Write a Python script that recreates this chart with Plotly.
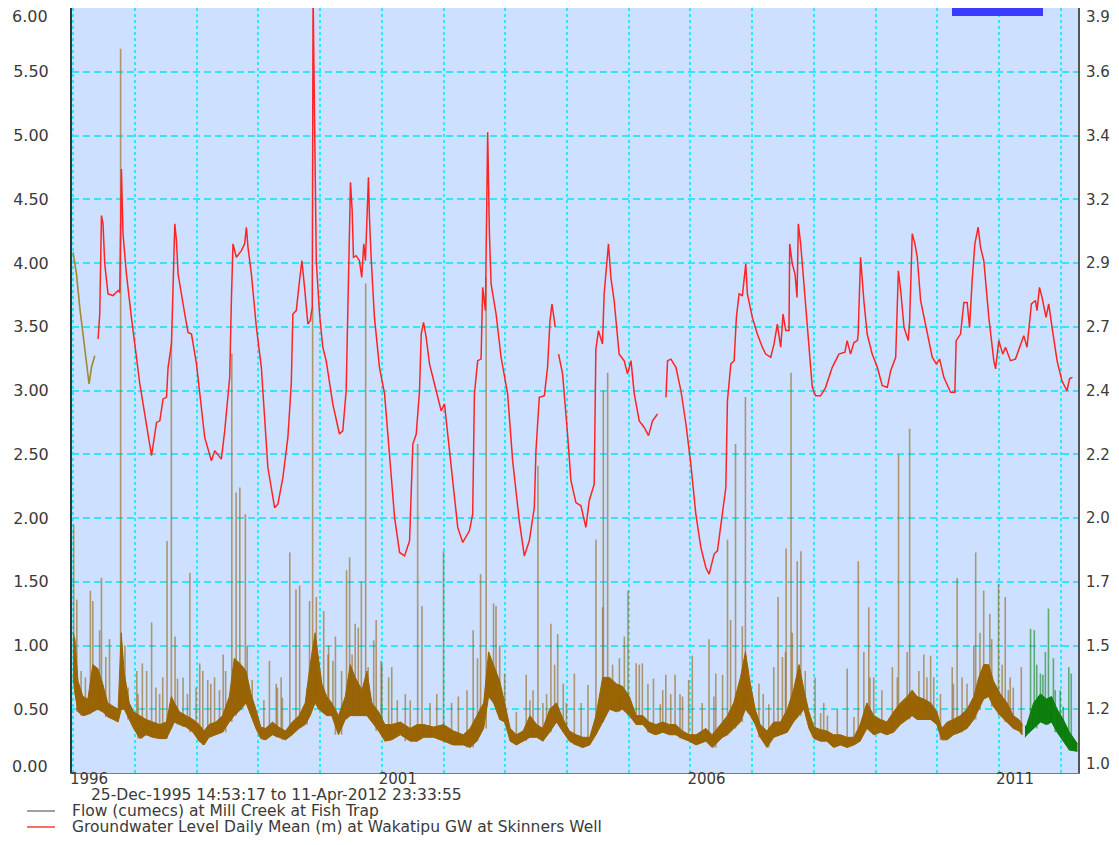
import pandas as pd
import plotly.graph_objects as go

# ---------------- data ----------------
x_start = "1995-12-25 14:53:17"
x_end = "2012-04-11 23:33:55"
year_ticks = list(range(1996, 2013))
year_tick_text = ["1996", "", "", "", "", "2001", "", "", "", "", "2006", "", "", "", "", "2011", ""]

left_tick_vals = [0, 0.5, 1.0, 1.5, 2.0, 2.5, 3.0, 3.5, 4.0, 4.5, 5.0, 5.5, 6.0]
left_tick_text = ["0.00", "0.50", "1.00", "1.50", "2.00", "2.50", "3.00", "3.50", "4.00", "4.50", "5.00", "5.50", "6.00"]
right_tick_vals = [1.0, 1.2417, 1.4833, 1.725, 1.9667, 2.2083, 2.45, 2.6917, 2.9333, 3.175, 3.4167, 3.6583, 3.9]
right_tick_text = ["1.0", "1.2", "1.5", "1.7", "2.0", "2.2", "2.4", "2.7", "2.9", "3.2", "3.4", "3.6", "3.9"]

# Groundwater level (m) - early segment (different quality colour)
gw_early_years = [1996.000, 1996.055, 1996.108, 1996.162, 1996.217, 1996.259, 1996.298, 1996.351]
gw_early_level = [2.974, 2.892, 2.765, 2.664, 2.551, 2.475, 2.538, 2.582]

# Groundwater level (m) - main record (None = gap)
gw_years = [
    1996.405, 1996.432, 1996.460, 1996.485, 1996.513, 1996.566, 1996.647, 1996.728, 1996.756, 1996.767,
    1996.783, 1996.809, 1996.864, 1996.945, 1997.079, 1997.269, 1997.350, 1997.403, 1997.456, 1997.511,
    1997.537, 1997.592, 1997.618, 1997.646, 1997.673, 1997.699, 1997.807, 1997.861, 1997.916, 1997.997,
    1998.131, 1998.239, 1998.293, 1998.401, 1998.455, 1998.536, 1998.563, 1998.589, 1998.644, 1998.725,
    1998.778, 1998.806, 1998.832, 1998.887, 1998.968, 1999.049, 1999.155, 1999.264, 1999.317, 1999.398,
    1999.479, 1999.534, 1999.560, 1999.615, 1999.668, 1999.706, 1999.749, 1999.803, 1999.841, 1999.874,
    1999.887, 1999.911, 1999.939, 1999.992, 2000.045, 2000.100, 2000.207, 2000.315, 2000.369, 2000.424,
    2000.450, 2000.477, 2000.494, 2000.521, 2000.542, 2000.586, 2000.639, 2000.676, 2000.709, 2000.736,
    2000.757, 2000.785, 2000.801, 2000.828, 2000.882, 2000.963, 2001.044, 2001.125, 2001.206, 2001.287,
    2001.368, 2001.449, 2001.502, 2001.557, 2001.610, 2001.638, 2001.675, 2001.718, 2001.772, 2001.880,
    2001.961, 2002.015, 2002.068, 2002.149, 2002.230, 2002.311, 2002.419, 2002.472, 2002.500, 2002.553,
    2002.608, 2002.634, 2002.678, 2002.715, 2002.743, 2002.770, 2002.851, 2002.932, 2003.039, 2003.120,
    2003.228, 2003.309, 2003.390, 2003.471, 2003.498, 2003.552, 2003.633, 2003.686, 2003.725, 2003.757,
    2003.811, 2003.838, 2003.864, 2003.929, 2004.010, 2004.065, 2004.146, 2004.227, 2004.307, 2004.361,
    2004.442, 2004.469, 2004.511, 2004.576, 2004.603, 2004.641, 2004.673, 2004.712, 2004.765, 2004.846,
    2004.927, 2004.981, 2005.036, 2005.089, 2005.170, 2005.251, 2005.320, 2005.385, 2005.466, 2005.530,
    2005.602, 2005.628, 2005.683, 2005.764, 2005.845, 2005.926, 2006.006, 2006.087, 2006.168, 2006.249,
    2006.303, 2006.383, 2006.437, 2006.518, 2006.573, 2006.599, 2006.654, 2006.707, 2006.744, 2006.788,
    2006.841, 2006.896, 2006.922, 2007.003, 2007.084, 2007.165, 2007.220, 2007.301, 2007.354, 2007.408,
    2007.463, 2007.500, 2007.544, 2007.597, 2007.608, 2007.650, 2007.694, 2007.727, 2007.748, 2007.786,
    2007.840, 2007.893, 2007.974, 2008.029, 2008.110, 2008.191, 2008.298, 2008.406, 2008.503, 2008.540,
    2008.595, 2008.649, 2008.706, 2008.718, 2008.757, 2008.810, 2008.864, 2008.945, 2009.026, 2009.107,
    2009.188, 2009.243, 2009.324, 2009.367, 2009.405, 2009.459, 2009.528, 2009.550, 2009.592, 2009.636,
    2009.673, 2009.728, 2009.835, 2009.916, 2009.981, 2010.036, 2010.105, 2010.214, 2010.283, 2010.304,
    2010.375, 2010.429, 2010.482, 2010.521, 2010.563, 2010.607, 2010.660, 2010.699, 2010.752, 2010.833,
    2010.914, 2010.942, 2010.995, 2011.060, 2011.104, 2011.184, 2011.265, 2011.346, 2011.400, 2011.453,
    2011.524, 2011.589, 2011.615, 2011.654, 2011.696, 2011.761, 2011.804, 2011.858, 2011.939, 2012.019,
    2012.100, 2012.144, 2012.190,
]
gw_level = [
    2.645, 2.740, 3.113, 3.082, 2.930, 2.816, 2.810, 2.829, 2.822, 3.170,
    3.290, 3.044, 2.892, 2.727, 2.475, 2.203, 2.329, 2.335, 2.418, 2.424,
    2.538, 2.626, 2.892, 3.082, 3.018, 2.892, 2.740, 2.670, 2.664, 2.551,
    2.272, 2.184, 2.222, 2.190, 2.297, 2.500, 2.791, 3.006, 2.955, 2.980,
    3.006, 3.069, 2.993, 2.892, 2.689, 2.538, 2.158, 2.006, 2.019, 2.120,
    2.272, 2.475, 2.740, 2.753, 2.867, 2.942, 2.841, 2.702, 2.715, 2.765,
    3.950, 3.398, 2.942, 2.740, 2.614, 2.563, 2.399, 2.285, 2.297, 2.449,
    2.715, 3.094, 3.239, 3.132, 2.955, 2.961, 2.942, 2.879, 3.006, 2.942,
    3.107, 3.258, 3.107, 2.955, 2.727, 2.538, 2.437, 2.209, 1.969, 1.836,
    1.823, 1.880, 2.247, 2.285, 2.449, 2.664, 2.708, 2.651, 2.551, 2.449,
    2.373, 2.399, 2.285, 2.095, 1.931, 1.874, 1.918, 1.981, 2.437, 2.563,
    2.569, 2.841, 2.753, 3.429, 3.044, 2.854, 2.740, 2.576, 2.437, 2.184,
    1.956, 1.823, 1.880, 2.006, 2.222, 2.424, 2.430, 2.538, 2.715, 2.778,
    2.689, None, 2.588, 2.513, 2.285, 2.108, 2.025, 2.013, 1.931, 2.032,
    2.095, 2.607, 2.677, 2.626, 2.816, 2.917, 3.006, 2.879, 2.791, 2.588,
    2.563, 2.513, 2.563, 2.437, 2.335, 2.310, 2.279, 2.335, 2.361, None,
    2.424, 2.563, 2.569, 2.538, 2.449, 2.323, 2.171, 1.981, 1.855, 1.779,
    1.754, 1.830, 1.842, 1.981, 2.082, 2.411, 2.551, 2.563, 2.727, 2.816,
    2.810, 2.930, 2.816, 2.727, 2.664, 2.614, 2.588, 2.576, 2.626, 2.702,
    2.614, 2.740, 2.677, 2.677, 3.006, 2.930, 2.892, 2.803, 3.082, 3.006,
    2.841, 2.689, 2.462, 2.430, 2.430, 2.462, 2.538, 2.588, 2.595, 2.639,
    2.588, 2.632, 2.639, 2.664, 2.955, 2.791, 2.664, 2.588, 2.538, 2.468,
    2.462, 2.525, 2.576, 2.904, 2.829, 2.689, 2.639, 2.715, 3.044, 3.006,
    2.955, 2.791, 2.664, 2.576, 2.551, 2.569, 2.500, 2.443, 2.443, 2.639,
    2.664, 2.784, 2.784, 2.689, 2.867, 3.006, 3.069, 2.993, 2.942, 2.727,
    2.563, 2.532, 2.639, 2.588, 2.614, 2.563, 2.569, 2.626, 2.658, 2.614,
    2.778, 2.791, 2.753, 2.841, 2.803, 2.727, 2.778, 2.689, 2.563, 2.487,
    2.449, 2.495, 2.500,
]

# Flow (cumecs): dense daily band (lower / upper edge) - brown record
flow_band_years = [
    1996.00, 1996.03, 1996.08, 1996.16, 1996.24, 1996.32, 1996.40, 1996.48, 1996.56, 1996.65,
    1996.73, 1996.78, 1996.83, 1996.91, 1996.98, 1997.08, 1997.18, 1997.29, 1997.40, 1997.51,
    1997.59, 1997.64, 1997.72, 1997.83, 1997.94, 1998.04, 1998.12, 1998.20, 1998.31, 1998.42,
    1998.53, 1998.61, 1998.72, 1998.80, 1998.88, 1998.96, 1999.04, 1999.12, 1999.23, 1999.33,
    1999.44, 1999.55, 1999.66, 1999.76, 1999.84, 1999.92, 1999.98, 2000.03, 2000.11, 2000.19,
    2000.30, 2000.41, 2000.49, 2000.57, 2000.68, 2000.76, 2000.84, 2000.95, 2001.05, 2001.16,
    2001.30, 2001.46, 2001.57, 2001.68, 2001.84, 2002.00, 2002.16, 2002.32, 2002.43, 2002.54,
    2002.65, 2002.73, 2002.81, 2002.91, 2002.99, 2003.08, 2003.18, 2003.29, 2003.40, 2003.51,
    2003.61, 2003.72, 2003.83, 2003.94, 2004.04, 2004.15, 2004.26, 2004.37, 2004.47, 2004.58,
    2004.69, 2004.80, 2004.90, 2005.01, 2005.12, 2005.23, 2005.33, 2005.44, 2005.55, 2005.66,
    2005.76, 2005.87, 2005.98, 2006.09, 2006.25, 2006.35, 2006.52, 2006.60, 2006.70, 2006.81,
    2006.89, 2006.97, 2007.05, 2007.13, 2007.24, 2007.35, 2007.46, 2007.57, 2007.67, 2007.76,
    2007.84, 2007.92, 2008.00, 2008.11, 2008.21, 2008.32, 2008.43, 2008.54, 2008.65, 2008.75,
    2008.86, 2008.97, 2009.08, 2009.18, 2009.29, 2009.40, 2009.51, 2009.59, 2009.67, 2009.78,
    2009.89, 2009.99, 2010.07, 2010.16, 2010.26, 2010.37, 2010.48, 2010.59, 2010.67, 2010.75,
    2010.83, 2010.91, 2011.02, 2011.13, 2011.23, 2011.32, 2011.38,
]
flow_band_low = [
    0.75, 0.62, 0.48, 0.45, 0.46, 0.48, 0.50, 0.48, 0.44, 0.42,
    0.40, 0.50, 0.50, 0.42, 0.35, 0.27, 0.30, 0.28, 0.27, 0.27,
    0.35, 0.40, 0.38, 0.36, 0.32, 0.25, 0.22, 0.28, 0.30, 0.32,
    0.40, 0.45, 0.50, 0.55, 0.45, 0.35, 0.27, 0.26, 0.30, 0.28,
    0.26, 0.30, 0.35, 0.38, 0.45, 0.55, 0.50, 0.48, 0.45, 0.45,
    0.30, 0.42, 0.45, 0.45, 0.45, 0.45, 0.40, 0.33, 0.25, 0.26,
    0.30, 0.25, 0.25, 0.28, 0.28, 0.25, 0.22, 0.22, 0.20, 0.25,
    0.35, 0.60, 0.55, 0.42, 0.40, 0.25, 0.22, 0.25, 0.28, 0.28,
    0.25, 0.32, 0.40, 0.32, 0.25, 0.22, 0.20, 0.22, 0.30, 0.40,
    0.50, 0.48, 0.50, 0.45, 0.38, 0.38, 0.32, 0.30, 0.32, 0.30,
    0.30, 0.27, 0.25, 0.22, 0.25, 0.20, 0.28, 0.30, 0.35, 0.40,
    0.50, 0.45, 0.38, 0.28, 0.20, 0.28, 0.30, 0.32, 0.40, 0.45,
    0.50, 0.35, 0.27, 0.25, 0.25, 0.20, 0.22, 0.20, 0.22, 0.25,
    0.35, 0.30, 0.32, 0.30, 0.32, 0.38, 0.42, 0.45, 0.42, 0.42,
    0.42, 0.38, 0.26, 0.26, 0.30, 0.32, 0.35, 0.42, 0.50, 0.58,
    0.60, 0.52, 0.45, 0.40, 0.35, 0.33, 0.30,
]
flow_band_high = [
    1.10, 1.05, 0.72, 0.60, 0.58, 0.85, 0.82, 0.70, 0.55, 0.52,
    0.50, 1.10, 0.78, 0.55, 0.48, 0.45, 0.42, 0.40, 0.38, 0.40,
    0.60, 0.55, 0.48, 0.45, 0.42, 0.38, 0.33, 0.38, 0.40, 0.45,
    0.60, 0.90, 0.85, 0.80, 0.62, 0.50, 0.36, 0.35, 0.40, 0.36,
    0.33, 0.40, 0.45, 0.55, 0.85, 1.10, 0.90, 0.70, 0.60, 0.55,
    0.45, 0.60, 0.85, 0.75, 0.65, 0.80, 0.55, 0.48, 0.38, 0.38,
    0.40, 0.35, 0.38, 0.38, 0.36, 0.38, 0.33, 0.30, 0.35, 0.45,
    0.55, 0.95, 0.85, 0.72, 0.55, 0.35, 0.30, 0.33, 0.45, 0.38,
    0.35, 0.50, 0.55, 0.42, 0.33, 0.30, 0.28, 0.28, 0.45, 0.75,
    0.75, 0.70, 0.68, 0.60, 0.45, 0.45, 0.40, 0.38, 0.40, 0.38,
    0.38, 0.33, 0.30, 0.30, 0.35, 0.30, 0.40, 0.45, 0.55, 0.75,
    0.95, 0.70, 0.50, 0.38, 0.33, 0.40, 0.40, 0.50, 0.65, 0.85,
    0.65, 0.48, 0.36, 0.34, 0.33, 0.30, 0.30, 0.28, 0.28, 0.38,
    0.55, 0.45, 0.42, 0.40, 0.48, 0.55, 0.60, 0.65, 0.60, 0.58,
    0.55, 0.48, 0.35, 0.40, 0.42, 0.45, 0.50, 0.60, 0.75, 0.85,
    0.85, 0.72, 0.62, 0.55, 0.45, 0.42, 0.38,
]
# Flow event peaks (cumecs) - brown record
flow_spike_years = [
    1996.01, 1996.06, 1996.28, 1996.32, 1996.46, 1996.59, 1996.77, 1996.84, 1997.03, 1997.12,
    1997.27, 1997.40, 1997.52, 1997.59, 1997.65, 1997.78, 1997.89, 1998.05, 1998.18, 1998.29,
    1998.43, 1998.57, 1998.64, 1998.70, 1998.79, 1999.18, 1999.29, 1999.37, 1999.51, 1999.61,
    1999.67, 1999.83, 1999.88, 1999.94, 2000.13, 2000.21, 2000.43, 2000.48, 2000.57, 2000.67,
    2000.74, 2000.91, 2000.99, 2001.16, 2001.58, 2001.65, 2001.89, 2002.00, 2002.48, 2002.60,
    2002.69, 2002.81, 2002.85, 2002.99, 2003.34, 2003.40, 2003.53, 2003.67, 2003.74, 2003.85,
    2003.94, 2004.12, 2004.34, 2004.47, 2004.59, 2004.66, 2004.93, 2004.99, 2005.12, 2005.22,
    2005.31, 2005.40, 2005.51, 2005.60, 2005.75, 2005.83, 2005.97, 2006.03, 2006.30, 2006.41,
    2006.52, 2006.60, 2006.73, 2006.89, 2007.18, 2007.27, 2007.35, 2007.42, 2007.49, 2007.55,
    2007.63, 2007.73, 2007.79, 2008.02, 2008.11, 2008.22, 2008.54, 2008.65, 2008.72, 2008.89,
    2008.97, 2009.27, 2009.37, 2009.55, 2009.78, 2009.89, 2009.94, 2010.05, 2010.24, 2010.32,
    2010.48, 2010.62, 2010.75, 2010.85, 2010.99, 2011.10, 2011.15, 2011.23, 2011.36,
    # smaller events
    1996.13, 1996.20, 1996.43, 1996.53, 1996.89, 1997.05, 1997.19, 1997.34, 1997.45, 1997.69,
    1997.85, 1997.99, 1998.10, 1998.23, 1998.37, 1998.47, 1998.82, 1998.90, 1999.09, 1999.31,
    1999.39, 1999.79, 2000.06, 2000.14, 2000.25, 2000.35, 2000.52, 2000.62, 2000.78, 2000.87,
    2001.00, 2001.11, 2001.25, 2001.38, 2001.46, 2001.78, 2002.13, 2002.24, 2002.38, 2002.55,
    2002.91, 2003.18, 2003.45, 2003.61, 2003.80, 2003.99, 2004.23, 2004.58, 2004.74, 2004.85,
    2005.17, 2005.55, 2005.68, 2005.87, 2006.19, 2006.38, 2006.65, 2006.84, 2007.11, 2007.54,
    2007.65, 2007.86, 2008.16, 2008.38, 2008.81, 2008.91, 2009.10, 2009.35, 2009.51, 2009.70,
    2009.83, 2010.26, 2010.40, 2010.59, 2010.69, 2010.88, 2011.05, 2011.18,
]
flow_spike_peak = [
    1.95, 1.36, 1.43, 1.35, 1.53, 1.05, 5.68, 1.00, 0.80, 0.86,
    1.18, 0.62, 1.82, 3.37, 1.07, 0.75, 1.57, 0.86, 0.73, 0.75,
    0.93, 3.29, 2.20, 2.24, 2.03, 0.88, 0.70, 0.75, 1.73, 1.44,
    1.47, 1.35, 3.65, 1.38, 0.93, 0.88, 1.59, 1.69, 1.17, 1.50,
    3.84, 1.20, 0.88, 0.83, 2.58, 1.31, 0.62, 1.74, 1.12, 1.56,
    3.89, 1.33, 1.31, 0.78, 0.77, 0.57, 2.41, 0.62, 1.17, 1.09,
    0.70, 0.78, 0.69, 1.83, 3.00, 3.14, 1.07, 1.43, 0.86, 0.86,
    0.70, 0.74, 0.54, 0.77, 0.77, 0.62, 0.73, 0.92, 1.05, 0.78,
    0.77, 1.83, 2.58, 2.95, 0.62, 0.54, 0.83, 1.38, 0.91, 1.76,
    3.14, 1.66, 1.74, 0.75, 0.47, 0.45, 0.82, 0.44, 1.66, 1.30,
    0.75, 0.83, 2.50, 2.70, 0.93, 0.92, 0.75, 0.62, 0.83, 1.53,
    0.70, 1.73, 1.43, 1.25, 1.48, 1.38, 0.65, 0.67, 0.83,
    # smaller events
    0.80, 0.75, 1.12, 0.91, 0.67, 0.62, 0.80, 0.67, 0.75, 0.74,
    0.62, 0.67, 0.80, 0.70, 0.65, 0.80, 1.00, 0.73, 0.57, 0.67,
    0.59, 0.67, 1.27, 1.00, 1.07, 0.80, 0.93, 1.14, 0.83, 1.04,
    0.85, 0.75, 0.57, 0.62, 0.57, 0.55, 0.55, 0.60, 0.65, 0.90,
    1.00, 0.48, 0.65, 0.55, 0.85, 0.55, 0.55, 1.30, 0.85, 0.90,
    0.85, 0.65, 0.62, 0.60, 0.55, 0.60, 1.20, 1.15, 0.70, 0.95,
    1.10, 0.80, 0.55, 0.50, 0.95, 0.75, 0.65, 0.75, 0.95, 0.80,
    0.75, 0.70, 0.75, 1.00, 1.10, 1.05, 0.85, 0.75,
]

# Flow (cumecs): latest (green) record
flow2_band_years = [2011.42, 2011.45, 2011.56, 2011.67, 2011.77, 2011.85, 2011.94, 2012.04, 2012.14, 2012.27]
flow2_band_low = [0.28, 0.30, 0.35, 0.40, 0.38, 0.40, 0.32, 0.25, 0.18, 0.17]
flow2_band_high = [0.36, 0.38, 0.55, 0.62, 0.58, 0.60, 0.50, 0.42, 0.32, 0.23]
flow2_spike_years = [2011.51, 2011.57, 2011.67, 2011.71, 2011.80, 2011.91, 2012.04, 2012.13, 2012.17,
                     2011.61, 2011.75, 2011.88, 2011.99]
flow2_spike_peak = [1.13, 1.12, 0.78, 0.77, 1.29, 0.65, 0.52, 0.83, 0.78,
                    0.85, 0.95, 0.90, 0.65]

period_text = "25-Dec-1995 14:53:17 to 11-Apr-2012 23:33:55"
flow_name = "Flow (cumecs) at Mill Creek at Fish Trap"
gw_name = "Groundwater Level Daily Mean (m) at Wakatipu GW at Skinners Well"


# ---------------- helpers ----------------
def to_dt(years):
    out = []
    for y in years:
        base = pd.Timestamp(int(y), 1, 1)
        out.append(base + pd.Timedelta(days=(y - int(y)) * 365.25))
    return out


def spike_xy(band_years, band_low, s_years, s_peak):
    xs, ys = [], []
    for t, p in zip(s_years, s_peak):
        # base of each event = lower edge of the nearest band reading
        i = min(range(len(band_years)), key=lambda k: abs(band_years[k] - t))
        d = to_dt([t])[0]
        xs += [d, d, None]
        ys += [band_low[i], p, None]
    return xs, ys


# Page geometry (plot area in page pixels; the html body adds an 8 px margin)
PAGE_L, PAGE_R, PAGE_T, PAGE_B = 72, 1078, 8, 773


def px(page_x):
    return (page_x - PAGE_L) / (PAGE_R - PAGE_L)


def py(page_y):
    return 1 - (page_y - PAGE_T) / (PAGE_B - PAGE_T)


BROWN = "#9a6400"
GREEN = "#0b7d0b"
GRID = "#33e3ff"
TEXT = "#3a3a3a"
FONT = "DejaVu Sans"
TEXT_SIZE = 15.5
FLOW_KEY = "#a0a0a0"
GW_KEY = "#ff6a6a"

fig = go.Figure()

bx = to_dt(flow_band_years)
fig.add_trace(go.Scatter(x=bx, y=flow_band_low, mode="lines", line=dict(color=BROWN, width=1),
                         showlegend=False, hoverinfo="skip"))
fig.add_trace(go.Scatter(x=bx, y=flow_band_high, mode="lines", line=dict(color=BROWN, width=1),
                         fill="tonexty", fillcolor=BROWN, showlegend=False, hoverinfo="skip"))
sx, sy = spike_xy(flow_band_years, flow_band_low, flow_spike_years, flow_spike_peak)
fig.add_trace(go.Scatter(x=sx, y=sy, mode="lines", line=dict(color="rgba(150,100,15,0.6)", width=1.6),
                         showlegend=False, hoverinfo="skip"))

gx = to_dt(flow2_band_years)
fig.add_trace(go.Scatter(x=gx, y=flow2_band_low, mode="lines", line=dict(color=GREEN, width=1),
                         showlegend=False, hoverinfo="skip"))
fig.add_trace(go.Scatter(x=gx, y=flow2_band_high, mode="lines", line=dict(color=GREEN, width=1),
                         fill="tonexty", fillcolor=GREEN, showlegend=False, hoverinfo="skip"))
sx2, sy2 = spike_xy(flow2_band_years, flow2_band_low, flow2_spike_years, flow2_spike_peak)
fig.add_trace(go.Scatter(x=sx2, y=sy2, mode="lines", line=dict(color="rgba(20,130,20,0.6)", width=1.6),
                         showlegend=False, hoverinfo="skip"))

fig.add_trace(go.Scatter(x=to_dt(gw_early_years), y=gw_early_level, mode="lines", yaxis="y2",
                         line=dict(color="#a08a30", width=1.6), showlegend=False, hoverinfo="skip"))
fig.add_trace(go.Scatter(x=to_dt(gw_years), y=gw_level, mode="lines", yaxis="y2", connectgaps=False,
                         line=dict(color="#ff2424", width=1.5), showlegend=False, hoverinfo="skip"))

left_font = dict(family=FONT, size=16, color=TEXT)
right_font = dict(family=FONT, size=15, color=TEXT)
x_font = dict(family=FONT, size=15, color=TEXT)
text_font = dict(family=FONT, size=TEXT_SIZE, color=TEXT)

annotations = [
    # end labels of the value axes are nudged inside the frame, as in the reference
    dict(text=left_tick_text[-1], x=px(50), y=py(17), xanchor="right", yanchor="middle", font=left_font),
    dict(text=left_tick_text[0], x=px(50), y=py(766), xanchor="right", yanchor="middle", font=left_font),
    dict(text=right_tick_text[-1], x=px(1084), y=py(17), xanchor="left", yanchor="middle", font=right_font),
    dict(text=right_tick_text[0], x=px(1084), y=py(764), xanchor="left", yanchor="middle", font=right_font),
    dict(text=period_text, x=px(89), y=py(795), xanchor="left", yanchor="middle", font=text_font),
    dict(text=flow_name, x=px(70), y=py(811), xanchor="left", yanchor="middle", font=text_font),
    dict(text=gw_name, x=px(70), y=py(827), xanchor="left", yanchor="middle", font=text_font),
]
for a in annotations:
    a.update(xref="paper", yref="paper", showarrow=False)

shapes = [
    dict(type="rect", x0=px(952), x1=px(1043), y0=py(16), y1=py(8),
         fillcolor="#3b3bff", line=dict(width=0), layer="above"),
    dict(type="line", x0=px(27), x1=px(55), y0=py(811), y1=py(811), line=dict(color=FLOW_KEY, width=2)),
    dict(type="line", x0=px(27), x1=px(55), y0=py(827), y1=py(827), line=dict(color=GW_KEY, width=2)),
]
for s in shapes:
    s.update(xref="paper", yref="paper")

fig.update_layout(
    width=1103, height=829,
    margin=dict(l=64, r=33, t=0, b=64, autoexpand=False),
    paper_bgcolor="white", plot_bgcolor="#cde0ff",
    font=dict(family=FONT, size=16, color=TEXT),
    showlegend=False,
    xaxis=dict(type="date", range=[x_start, x_end],
               tickvals=[f"{y}-01-01" for y in year_ticks], ticktext=year_tick_text,
               showgrid=True, gridcolor=GRID, gridwidth=1.5, griddash="3px,3px",
               showline=True, linecolor="#7a7a7a", linewidth=1, mirror=True,
               ticks="", ticklabelshift=16, ticklabelstandoff=-8, zeroline=False,
               tickfont=x_font),
    yaxis=dict(range=[0, 6], tickvals=left_tick_vals,
               ticktext=[""] + left_tick_text[1:-1] + [""],
               showgrid=True, gridcolor=GRID, gridwidth=1.5, griddash="7px,4px",
               showline=True, linecolor="#2f3a3a", linewidth=2, ticks="",
               ticklabelstandoff=18, zeroline=False, tickfont=left_font),
    yaxis2=dict(overlaying="y", side="right", range=[1.0, 3.9],
                tickvals=right_tick_vals, ticktext=[""] + right_tick_text[1:-1] + [""],
                showgrid=False, showline=True, linecolor="#555555", linewidth=2, ticks="",
                ticklabelstandoff=3, zeroline=False, tickfont=right_font),
    annotations=annotations,
    shapes=shapes,
)

fig.write_html("out.html")
